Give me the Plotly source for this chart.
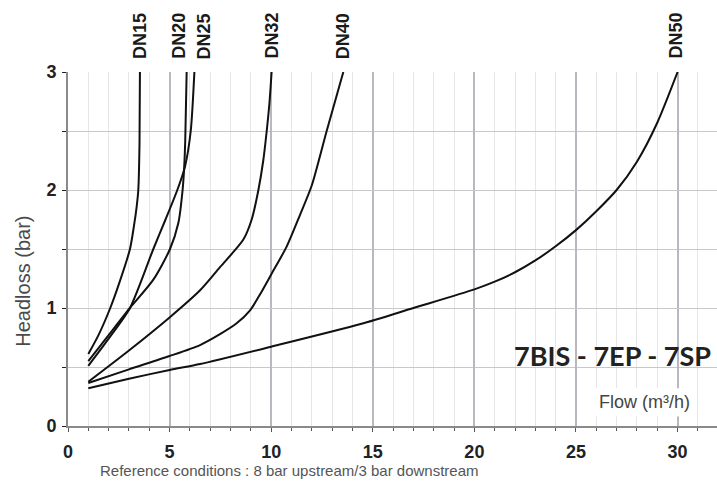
import plotly.graph_objects as go

# Headloss curves per nominal diameter: flow (m3/h) vs headloss (bar)
flow_dn15 = [1.0, 1.5, 2.08, 2.5, 3.05, 3.25, 3.38, 3.46, 3.52, 3.54]
head_dn15 = [0.61, 0.77, 1.0, 1.2, 1.5, 1.7, 1.86, 2.0, 2.4, 3.0]

flow_dn20 = [1.0, 2.0, 3.05, 4.2, 5.02, 5.43, 5.64, 5.72, 5.77, 5.84]
head_dn20 = [0.55, 0.77, 1.0, 1.24, 1.5, 1.72, 2.0, 2.2, 2.42, 3.0]

flow_dn25 = [1.0, 2.0, 3.05, 4.2, 4.8, 5.38, 5.76, 6.04, 6.22]
head_dn25 = [0.51, 0.74, 1.0, 1.5, 1.75, 2.0, 2.2, 2.5, 3.0]

flow_dn32 = [1.0, 3.0, 5.0, 6.5, 7.5, 8.63, 9.04, 9.37, 9.61, 9.78, 9.92, 10.02]
head_dn32 = [0.375, 0.64, 0.92, 1.15, 1.35, 1.58, 1.75, 2.0, 2.25, 2.5, 2.75, 3.0]

flow_dn40 = [1.0, 3.0, 5.0, 6.5, 7.5, 8.3, 8.96, 9.5, 10.02, 10.76, 11.42, 12.0, 12.73, 13.55]
head_dn40 = [0.365, 0.48, 0.593, 0.686, 0.78, 0.87, 0.98, 1.13, 1.29, 1.52, 1.79, 2.04, 2.5, 3.0]

flow_dn50 = [1.0, 3.0, 5.0, 6.5, 10.0, 14.4, 17.0, 20.0, 21.0, 22.0, 23.0, 24.0, 25.0, 26.0, 27.0, 28.0, 29.0, 30.0]
head_dn50 = [0.32, 0.40, 0.475, 0.525, 0.672, 0.864, 1.0, 1.158, 1.223, 1.303, 1.403, 1.523, 1.66, 1.82, 2.0, 2.24, 2.57, 3.0]

series_names = ["DN15", "DN20", "DN25", "DN32", "DN40", "DN50"]
series_flow = [flow_dn15, flow_dn20, flow_dn25, flow_dn32, flow_dn40, flow_dn50]
series_head = [head_dn15, head_dn20, head_dn25, head_dn32, head_dn40, head_dn50]
label_shift = [0, -8, 10, 0, 0, -2]  # nudges DN20/DN25 labels apart

x_ticks = [0, 5, 10, 15, 20, 25, 30]
y_ticks = [0, 1, 2, 3]

FONT = "Liberation Sans, Arial, sans-serif"

fig = go.Figure()
for name, fx, hy in zip(series_names, series_flow, series_head):
    fig.add_trace(go.Scatter(
        x=fx, y=hy, mode="lines", name=name,
        line=dict(color="#111111", width=2, shape="spline", smoothing=0.7),
        hoverinfo="skip", showlegend=False,
    ))

# Diameter labels at the top end of each curve
for name, fx, dx in zip(series_names, series_flow, label_shift):
    fig.add_annotation(
        x=fx[-1], y=1, xref="x", yref="paper",
        text=f"<b>{name}</b>", textangle=-90, showarrow=False,
        yanchor="bottom", xanchor="center", yshift=11, xshift=dx,
        font=dict(family=FONT, size=18, color="#1a1a1a"),
    )

# White box behind the flow axis caption
fig.add_shape(type="rect", xref="x", yref="y", x0=25.1, x1=30.9, y0=0.08, y1=0.32,
              fillcolor="white", line=dict(width=0), layer="above")
fig.add_annotation(
    x=28.35, y=0.2, xref="x", yref="y", text="Flow (m³/h)", showarrow=False,
    font=dict(family=FONT, size=18, color="#444444"),
)

fig.add_annotation(
    x=1, y=0.6, xref="paper", yref="y", xanchor="right", xshift=-4,
    text="<b>7BIS - 7EP - 7SP</b>", showarrow=False,
    font=dict(family="Lato, Carlito, sans-serif", size=27, color="#222222"),
)

fig.add_annotation(
    x=-45 / 649, y=0.4076, xref="paper", yref="paper", textangle=-90,
    xanchor="center", yanchor="middle",
    text="Headloss (bar)", showarrow=False,
    font=dict(family=FONT, size=20, color="#4a4a4a"),
)

fig.add_annotation(
    x=30 / 649, y=-44 / 354, xref="paper", yref="paper", xanchor="left", yanchor="middle",
    text="Reference conditions : 8 bar upstream/3 bar downstream", showarrow=False,
    font=dict(family=FONT, size=15, color="#555555"),
)

fig.update_xaxes(
    range=[0, 31.94], tickvals=x_ticks, ticktext=[f"<b>{v}</b>" for v in x_ticks],
    showgrid=True, gridcolor="#b8b8c0", gridwidth=2,
    minor=dict(dtick=1, tick0=0, showgrid=True, gridcolor="#e6e6e6", gridwidth=1,
               ticks="outside", ticklen=3, tickcolor="#555555"),
    ticks="outside", ticklen=4, tickcolor="#555555",
    showline=True, linecolor="#8a8a8a", linewidth=2, zeroline=False,
    tickfont=dict(family=FONT, size=18, color="#222222"), ticklabelstandoff=4,
)
fig.update_yaxes(
    range=[0, 3], tickvals=y_ticks, ticktext=[f"<b>{v}</b>" for v in y_ticks],
    showgrid=True, gridcolor="#c8c8c8", gridwidth=1,
    minor=dict(dtick=0.5, tick0=0, showgrid=True, gridcolor="#c8c8c8", gridwidth=1,
               ticks="outside", ticklen=4, tickcolor="#222222"),
    ticks="outside", ticklen=4, tickcolor="#222222",
    showline=True, linecolor="#8a8a8a", linewidth=2, zeroline=False,
    tickfont=dict(family=FONT, size=18, color="#222222"), ticklabelstandoff=2,
)

fig.update_layout(
    width=717, height=481,
    margin=dict(l=68, r=0, t=72, b=55),
    paper_bgcolor="white", plot_bgcolor="white",
)

fig.write_html("out.html")
